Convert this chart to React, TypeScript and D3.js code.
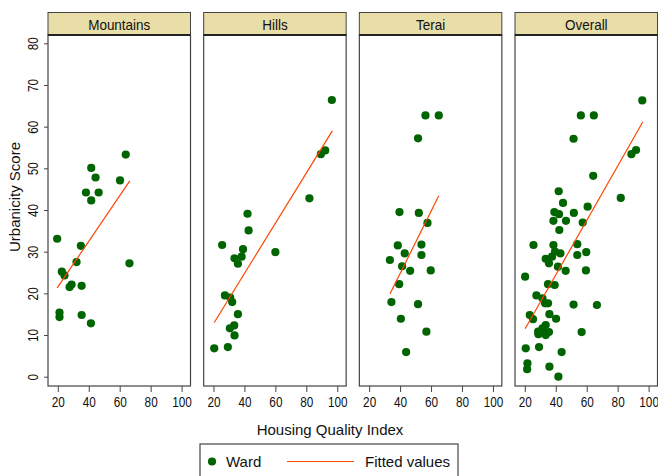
import React, { useEffect, useRef } from 'react';
import * as d3 from 'd3';

// Panel titles (regions)
const panelTitles = ['Mountains', 'Hills', 'Terai', 'Overall'];

// Housing Quality Index (x) and Urbanicity Score (y) per ward
const mountainsHqi = [63.9, 41.6, 44.4, 60.2, 38.2, 46.4, 41.6, 19.6, 34.9, 32.1, 66.3, 22.6, 24.3, 28.9, 27.6, 35.4, 21.1, 21.1, 35.4, 41.4];
const mountainsScore = [53.3, 50.1, 47.8, 47.1, 44.2, 44.2, 42.3, 33.1, 31.4, 27.5, 27.2, 25.2, 24.3, 22.1, 21.5, 21.8, 15.4, 14.3, 14.8, 12.8];

const hillsHqi = [96.5, 92.2, 89.4, 82.0, 42.0, 42.7, 25.6, 39.1, 60.0, 38.2, 33.6, 35.8, 27.4, 30.8, 32.1, 35.8, 33.4, 30.6, 33.6, 20.5, 29.3];
const hillsScore = [66.4, 54.3, 53.4, 42.8, 39.1, 35.1, 31.6, 30.6, 29.9, 28.8, 28.4, 27.1, 19.5, 19.0, 17.9, 15.0, 12.3, 11.6, 9.9, 6.8, 7.1];

const teraiHqi = [56.4, 65.0, 51.6, 39.6, 52.1, 57.7, 38.5, 53.8, 43.0, 53.8, 33.4, 41.3, 46.5, 59.8, 39.4, 34.4, 51.6, 40.5, 57.0, 43.9];
const teraiScore = [62.7, 62.7, 57.2, 39.5, 39.3, 36.9, 31.5, 31.7, 29.6, 29.2, 28.0, 26.5, 25.4, 25.5, 22.2, 17.9, 17.4, 13.9, 10.8, 5.9];

const overallHqi = [
  95.9, 56.2, 64.6, 51.5, 91.9, 88.9, 64.2, 82.0, 41.9, 44.7, 60.6, 39.1, 42.1, 51.7, 38.5, 46.6, 57.4, 42.3,
  25.6, 38.5, 53.9, 39.5, 43.0, 59.7, 53.9, 33.5, 35.6, 37.6, 41.4, 46.4, 59.5, 20.2, 35.0, 39.3, 27.5, 31.4,
  33.1, 35.0, 51.5, 66.6, 23.2, 25.3, 35.9, 40.2, 33.5, 31.4, 28.6, 35.6, 33.5, 28.8, 56.7, 20.6, 29.2, 43.8,
  21.7, 21.5, 35.9, 41.7,
];
const overallScore = [
  66.3, 62.7, 62.7, 57.1, 54.4, 53.4, 48.2, 42.9, 44.5, 41.7, 40.8, 39.5, 39.0, 39.3, 37.4, 37.4, 37.0, 35.2,
  31.6, 31.6, 31.8, 30.0, 29.6, 29.9, 29.2, 28.3, 27.2, 28.8, 26.4, 25.4, 25.5, 24.0, 22.2, 22.0, 19.5, 18.8,
  17.6, 17.6, 17.3, 17.2, 14.8, 13.8, 15.0, 13.9, 12.4, 11.6, 10.8, 10.7, 10.0, 10.2, 10.7, 6.8, 7.1, 5.9,
  3.2, 1.8, 2.4, 0.0,
];

// Fitted values: line end points [x, y]
const mountainsFit = [[19.6, 21.3], [66.5, 47.0]];
const hillsFit = [[20.5, 13.0], [96.8, 59.0]];
const teraiFit = [[33.5, 19.9], [65.0, 43.4]];
const overallFit = [[20.2, 11.5], [96.2, 61.1]];

const xTicks = [20, 40, 60, 80, 100];
const yTicks = [0, 10, 20, 30, 40, 50, 60, 70, 80];

const FONT = "'Liberation Sans', Arial, Helvetica, sans-serif";

const App = () => {
  const svgRef = useRef(null);

  useEffect(() => {
    const width = 658;
    const height = 476;
    const panelW = 142.5;
    const panelStep = 155.67;
    const left0 = 48;
    const headerTop = 12.5;
    const plotTop = 35;
    const plotBottom = 386;
    const dotColor = '#006400';
    const lineColor = '#ff4500';
    const frameColor = '#444';
    const narrow = 0.76; // condensed look of the tick labels

    const svg = d3.select(svgRef.current)
      .attr('width', width)
      .attr('height', height)
      .style('position', 'absolute')
      .style('left', 0)
      .style('top', 0)
      .style('background', '#fff');

    svg.selectAll('*').remove();

    const yScale = d3.scaleLinear().domain([0, 80]).range([376.7, 43.3]);

    const series = [
      { x: mountainsHqi, y: mountainsScore, fit: mountainsFit },
      { x: hillsHqi, y: hillsScore, fit: hillsFit },
      { x: teraiHqi, y: teraiScore, fit: teraiFit },
      { x: overallHqi, y: overallScore, fit: overallFit },
    ];

    series.forEach((s, i) => {
      const left = left0 + i * panelStep;
      const xScale = d3.scaleLinear().domain([20, 100]).range([left + 9.8, left + 133.6]);
      const g = svg.append('g');

      // plot region
      g.append('rect')
        .attr('x', left)
        .attr('y', plotTop)
        .attr('width', panelW)
        .attr('height', plotBottom - plotTop)
        .attr('fill', '#fff')
        .attr('stroke', frameColor)
        .attr('stroke-width', 1.2);

      // header strip
      g.append('rect')
        .attr('x', left)
        .attr('y', headerTop)
        .attr('width', panelW)
        .attr('height', plotTop - headerTop)
        .attr('fill', '#e9dea8')
        .attr('stroke', frameColor)
        .attr('stroke-width', 1);

      g.append('line')
        .attr('x1', left)
        .attr('x2', left + panelW)
        .attr('y1', plotTop)
        .attr('y2', plotTop)
        .attr('stroke', '#222')
        .attr('stroke-width', 2);

      g.append('text')
        .attr('transform', `translate(${left + panelW / 2}, 29.5) scale(0.9, 1)`)
        .attr('text-anchor', 'middle')
        .style('font-family', FONT)
        .style('font-size', '15px')
        .attr('fill', '#111')
        .text(panelTitles[i]);

      // x axis
      const xAxis = g.append('g')
        .attr('transform', `translate(0, ${plotBottom})`)
        .call(d3.axisBottom(xScale).tickValues(xTicks).tickSize(6).tickPadding(4.5).tickSizeOuter(0));
      xAxis.select('.domain').remove();
      xAxis.selectAll('line').attr('stroke', frameColor);
      xAxis.selectAll('text')
        .attr('transform', `scale(${narrow}, 1)`)
        .style('font-family', FONT)
        .style('font-size', '15.5px')
        .attr('fill', '#111');

      // points
      g.selectAll('.dot')
        .data(s.x.map((v, k) => [v, s.y[k]]))
        .enter()
        .append('circle')
        .attr('cx', d => xScale(d[0]))
        .attr('cy', d => yScale(d[1]))
        .attr('r', 4.1)
        .attr('fill', dotColor);

      // fitted line
      g.append('path')
        .datum(s.fit)
        .attr('d', d3.line().x(d => xScale(d[0])).y(d => yScale(d[1])))
        .attr('fill', 'none')
        .attr('stroke', lineColor)
        .attr('stroke-width', 1.2);
    });

    // y axis on first panel
    const yAxis = svg.append('g')
      .attr('transform', `translate(${left0}, 0)`)
      .call(d3.axisLeft(yScale).tickValues(yTicks).tickSize(4).tickSizeOuter(0));
    yAxis.select('.domain').remove();
    yAxis.selectAll('line').attr('stroke', frameColor);
    yAxis.selectAll('text')
      .attr('x', 0)
      .attr('dy', null)
      .attr('text-anchor', 'middle')
      .attr('transform', `translate(-10, 0) rotate(-90) scale(${narrow}, 1)`)
      .style('font-family', FONT)
      .style('font-size', '15.5px')
      .attr('fill', '#111');

    // axis titles
    svg.append('text')
      .attr('transform', 'translate(20, 197) rotate(-90)')
      .attr('text-anchor', 'middle')
      .style('font-family', FONT)
      .style('font-size', '15px')
      .attr('fill', '#111')
      .text('Urbanicity Score');

    svg.append('text')
      .attr('x', 330)
      .attr('y', 435)
      .attr('text-anchor', 'middle')
      .style('font-family', FONT)
      .style('font-size', '15px')
      .attr('fill', '#111')
      .text('Housing Quality Index');

    // legend
    const legend = svg.append('g');
    legend.append('rect')
      .attr('x', 200)
      .attr('y', 444)
      .attr('width', 258)
      .attr('height', 40)
      .attr('fill', '#fff')
      .attr('stroke', frameColor)
      .attr('stroke-width', 1.2);
    legend.append('circle')
      .attr('cx', 212)
      .attr('cy', 461.5)
      .attr('r', 4.1)
      .attr('fill', dotColor);
    legend.append('text')
      .attr('x', 226)
      .attr('y', 467)
      .style('font-family', FONT)
      .style('font-size', '15px')
      .attr('fill', '#111')
      .text('Ward');
    legend.append('line')
      .attr('x1', 287)
      .attr('x2', 354)
      .attr('y1', 461.5)
      .attr('y2', 461.5)
      .attr('stroke', lineColor)
      .attr('stroke-width', 1.2);
    legend.append('text')
      .attr('x', 365)
      .attr('y', 467)
      .style('font-family', FONT)
      .style('font-size', '15px')
      .attr('fill', '#111')
      .text('Fitted values');
  }, []);

  return <svg ref={svgRef}></svg>;
};

export default App;
